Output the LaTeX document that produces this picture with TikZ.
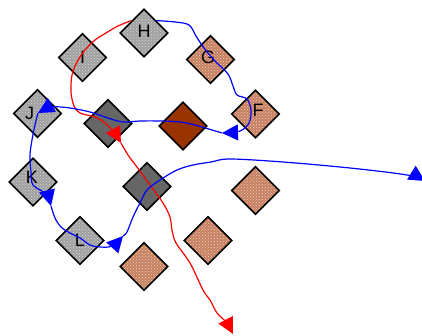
\documentclass[tikz,border=0pt]{standalone}
\usepackage{fontspec}
\setmainfont{Liberation Sans}
\usetikzlibrary{shapes.geometric,arrows.meta,patterns}
\definecolor{lgray}{RGB}{160,160,160}
\definecolor{lgraydot}{RGB}{215,215,215}
\definecolor{lbrown}{RGB}{198,128,98}
\definecolor{lbrowndot}{RGB}{240,205,185}
\definecolor{dgray}{RGB}{102,102,102}
\definecolor{dbrown}{RGB}{153,51,0}
\definecolor{eblue}{RGB}{0,0,255}
\definecolor{ered}{RGB}{255,0,0}
\tikzset{
  dia/.style={shape=diamond, draw=black, line width=1.6pt, minimum width=48pt,
    minimum height=48pt, inner sep=0pt},
  grayd/.style={dia, preaction={fill=lgray}, pattern=crosshatch dots, pattern color=lgraydot},
  brownd/.style={dia, preaction={fill=lbrown}, pattern=crosshatch dots, pattern color=lbrowndot},
  darkgrayd/.style={dia, fill=dgray},
  darkbrownd/.style={dia, fill=dbrown},
  every label/.style={font=\fontsize{18}{20}\selectfont, inner sep=0pt, text=black},
  edgeline/.style={line width=1.2pt, -{Triangle[length=16pt,width=16pt]}},
  blueedge/.style={edgeline, draw=eblue, fill=none},
  rededge/.style={edgeline, draw=ered, fill=none},
}
\begin{document}
\begin{tikzpicture}[x=1pt,y=-1pt]
\useasboundingbox (0,0) rectangle (422,336);
% nodes
\node[grayd, label={[shift={(0,-2)}]center:H}] (H) at (144,33) {};
\node[grayd, label={center:I}] (I) at (82.5,57.5) {};
\node[brownd, label={[shift={(-2.5,-2.5)}]center:G}] (G) at (210.5,59.5) {};
\node[grayd, label={[shift={(-8,0)}]center:J}] (J) at (37.5,113.5) {};
\node[darkgrayd] (d1) at (108,123.5) {};
\node[darkbrownd] (b1) at (183,126) {};
\node[brownd, label={[shift={(2.5,-4)}]center:F}] (F) at (255.5,114) {};
\node[grayd, label={[shift={(-1,-5)}]center:K}] (K) at (33,182) {};
\node[darkgrayd] (d2) at (147,186.5) {};
\node[brownd] (e1) at (255.5,190.5) {};
\node[grayd, label={center:L}] (L) at (80,240.5) {};
\node[brownd] (e2) at (208,240.5) {};
\node[brownd] (e3) at (144,266.5) {};
% free ends / arrow tips
\coordinate (a1) at (222,133);
\coordinate (a2) at (38,113);
\coordinate (a3) at (51,206);
\coordinate (a4) at (123,236);
\coordinate (a5) at (425,181);
\coordinate (r1) at (121,143);
\coordinate (r2) at (233,334);
% red chain
\draw[rededge] plot[smooth, tension=0.55] coordinates {(H.north west) (118,26) (106,33) (95,40) (85,50) (77,62) (72,75) (71,92) (74,106) (80,113) (95,117) (105,123) (114,132) (r1)};
\draw[rededge] plot[smooth, tension=0.55] coordinates {(r1) (128,155) (137,167) (150,185) (163,203) (170,217) (172,230) (176,243) (190,263) (203,290) (210,300) (217,313) (226,322) (r2)};
% blue chain
\draw[blueedge] plot[smooth, tension=0.55] coordinates {(H.north east) (175,22) (189,25) (196,36) (204,48) (215,61) (228,74) (233,86) (237,95) (247,99) (251,110) (249,123) (240,131) (a1)};
\draw[blueedge] plot[smooth, tension=0.55] coordinates {(a1) (212,130) (195,125) (180,122) (160,121) (140,121) (123,122) (108,118) (90,112) (70,108) (52,107) (a2)};
\draw[blueedge] plot[smooth, tension=0.55] coordinates {(a2) (35,125) (32,140) (30,155) (31,172) (33,185) (46,194) (a3)};
\draw[blueedge] plot[smooth, tension=0.55] coordinates {(a3) (55,218) (61,227) (70,233) (80,238) (90,245) (100,247) (112,246) (a4)};
\draw[blueedge] plot[smooth, tension=0.55] coordinates {(a4) (127,232) (133,217) (140,203) (147,190) (160,180) (177,170) (193,165) (211,162) (230,159) (283,162) (350,168) (407,175) (a5)};
\end{tikzpicture}
\end{document}
